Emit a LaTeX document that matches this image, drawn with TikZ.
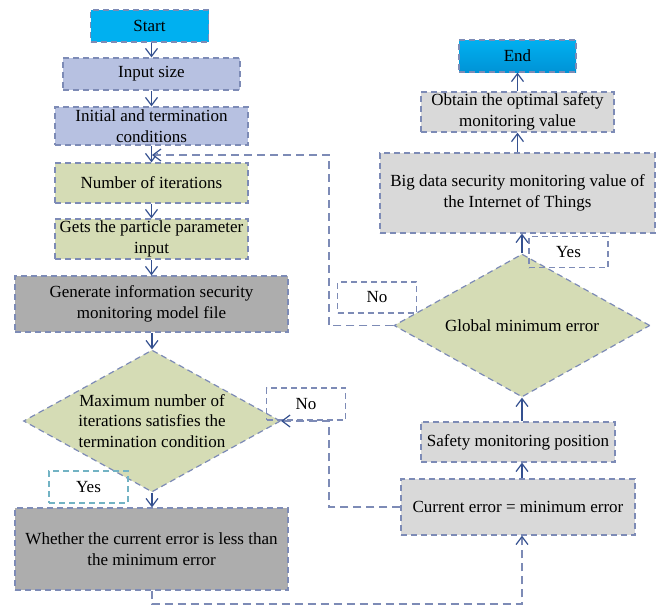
\documentclass[tikz,border=0pt]{standalone}
\usepackage{fontspec}
\setmainfont{Liberation Serif}
\usetikzlibrary{shapes.geometric,arrows.meta}

\definecolor{edge}{HTML}{7D8BB6}
\definecolor{navy}{HTML}{34508F}
\definecolor{cyanbox}{HTML}{00B0F0}
\definecolor{cyandark}{HTML}{0093D6}
\definecolor{lavender}{HTML}{B7C1E1}
\definecolor{sage}{HTML}{D5DCB5}
\definecolor{darkgrey}{HTML}{ADADAD}
\definecolor{lightgrey}{HTML}{D9D9D9}
\definecolor{teal}{HTML}{72B3C4}

\tikzset{
  txt/.style={font=\fontsize{17}{20.5}\selectfont, align=center},
  base/.style={txt, draw=edge, line width=1.2pt, dash pattern=on 6pt off 4pt, inner sep=2pt},
  stepbox/.style={base, rectangle},
  decision/.style={base, diamond, inner sep=0pt, fill=sage},
  tag/.style={base, rectangle, minimum width=79pt, minimum height=32pt},
  head/.style={-{Straight Barb[length=8pt,width=12pt,line width=1.2pt,color=navy]}},
  arr/.style={draw=navy, line width=1.2pt, head},
  loop/.style={draw=edge, line width=1.2pt, dash pattern=on 8pt off 5pt, head},
}

\begin{document}
\begin{tikzpicture}[x=1pt,y=-1pt]
\useasboundingbox (0,0) rectangle (662,606);

% left column
\node[stepbox, fill=cyanbox, minimum width=118pt, minimum height=32pt] (start) at (149.5,26) {Start};
\node[stepbox, fill=lavender, minimum width=177pt, minimum height=32pt] (input) at (151.5,74) {Input size};
\node[stepbox, fill=lavender, minimum width=193pt, minimum height=38pt] (init) at (151.5,126) {Initial and termination\\conditions};
\node[stepbox, fill=sage, minimum width=193pt, minimum height=40pt] (numit) at (151.5,183) {Number of iterations};
\node[stepbox, fill=sage, minimum width=193pt, minimum height=40pt] (gets) at (151.5,239) {Gets the particle parameter\\input};
\node[stepbox, fill=darkgrey, minimum width=273pt, minimum height=56pt] (gen) at (151.5,304) {Generate information security\\monitoring model file};
\node[decision, minimum width=257pt, minimum height=142pt] (maxd) at (152,421) {};
\node[txt] (maxdtext) at (maxd) {Maximum number of\\iterations satisfies the\\termination condition};
\node[stepbox, fill=darkgrey, minimum width=273pt, minimum height=82pt] (whether) at (151.5,549) {Whether the current error is less than\\the minimum error};

% right column
\node[stepbox, top color=cyanbox, bottom color=cyandark, minimum width=117pt, minimum height=32pt] (end) at (517.5,56) {End};
\node[stepbox, fill=lightgrey, minimum width=193pt, minimum height=40pt] (obtain) at (517.5,112) {Obtain the optimal safety\\monitoring value};
\node[stepbox, fill=lightgrey, minimum width=275pt, minimum height=80pt] (big) at (517.5,193) {Big data security monitoring value of\\the Internet of Things};
\node[decision, minimum width=256pt, minimum height=143pt] (globd) at (522,325.5) {};
\node[txt] (globdtext) at (globd) {Global minimum error};
\node[stepbox, fill=lightgrey, minimum width=194pt, minimum height=40pt] (safety) at (518,442) {Safety monitoring position};
\node[stepbox, fill=lightgrey, minimum width=234pt, minimum height=56pt] (current) at (518,507) {Current error = minimum error};

% branch labels
\node[tag, draw=teal] (yesleft) at (88.5,487) {Yes};
\node[tag] (noleft) at (306,404) {No};
\node[tag, minimum height=31pt] (yesright) at (568.5,252) {Yes};
\node[tag, minimum height=31pt] (noright) at (377,297.5) {No};

% main flow, left column
\draw[arr] (start.south -| input.north) -- (input.north);
\draw[arr] (input.south) -- (init.north);
\draw[arr] (init.south) -- (numit.north);
\draw[arr] (numit.south) -- (gets.north);
\draw[arr] (gets.south) -- (gen.north);
\draw[arr] (gen.south -| maxd.north) -- (maxd.north);
\draw[arr] (maxd.south) -- (whether.north -| maxd.south);

% main flow, right column
\draw[arr] (current.north -| globd.south) -- (safety.south -| globd.south);
\draw[arr] (safety.north -| globd.south) -- (globd.south);
\draw[arr] (globd.north) -- (big.south -| globd.north);
\draw[arr] (big.north) -- (obtain.south);
\draw[arr] (obtain.north) -- (end.south);

% return paths
\coordinate (bend) at (152,604);
\draw[loop] (whether.south -| maxd.south) -- (bend) -| (current.south -| globd.south);
\draw[loop] (current.west) -| (329,421) -- (maxd.east);
\coordinate (rejoin) at (152,155);
\draw[loop] (globd.west) -| (329,155) -- (rejoin);
\end{tikzpicture}
\end{document}
